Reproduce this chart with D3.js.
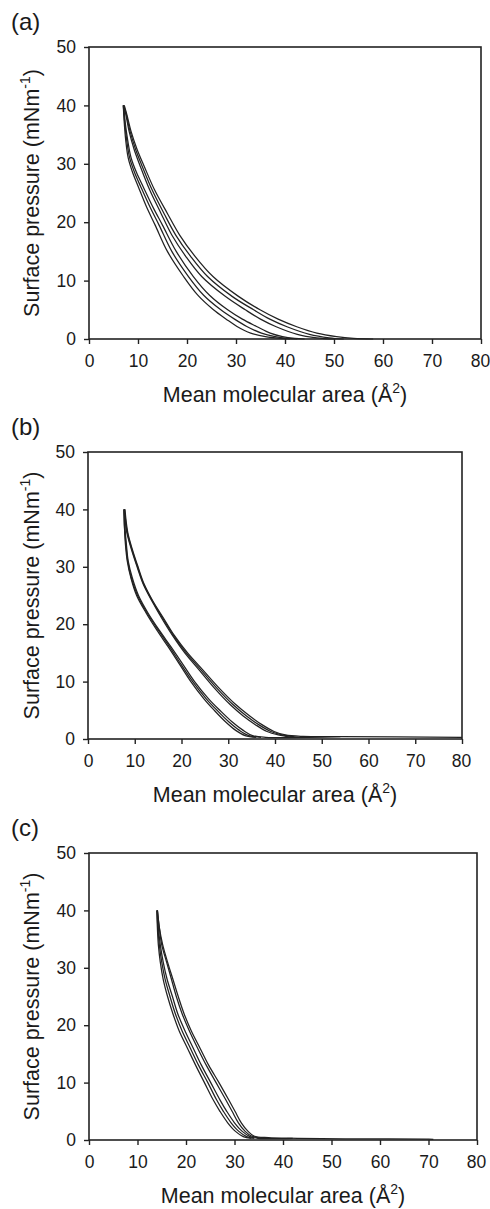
<!DOCTYPE html>
<html>
<head>
<meta charset="utf-8">
<script src="https://cdn.jsdelivr.net/npm/d3@7"></script>
<style>
  body { margin: 0; background: #fff; }
  text { font-family: "Liberation Sans", Arial, sans-serif; fill: #1a1a1a; }
</style>
</head>
<body>
<div id="chart"></div>
<script>
// tick values, same for all three panels
var areaTicks = [0, 10, 20, 30, 40, 50, 60, 70, 80]
var pressureTicks = [0, 10, 20, 30, 40, 50]

// isotherms as [mean molecular area, surface pressure]
// panel (a)
var a_comp1 = [[58,0],[54,0.1],[50.5,0.4],[46.5,1.0],[42.4,2.1],[38.6,3.4],[34.9,5.0],[30.5,7.3],[25.3,10.7],[21.6,14.2],[18.5,17.8],[16.0,21.5],[13.4,25.5],[11.3,29.5],[9.8,32.5],[8.6,35.5],[7.7,38.5],[7.2,40]]
var a_comp2 = [[52,0],[49,0.2],[45,0.8],[40.4,2.1],[36.9,3.4],[33.6,5.0],[29.2,7.3],[24.2,10.7],[20.7,14.2],[17.7,17.8],[15.3,21.5],[12.9,25.5],[10.9,29.5],[9.5,32.5],[8.4,35.5],[7.6,38.5],[7.1,40]]
var a_comp3 = [[50,0],[46.5,0.2],[42.5,0.8],[38.2,2.1],[35,3.4],[31.9,5.0],[27.8,7.3],[23.0,10.7],[19.7,14.2],[16.9,17.8],[14.7,21.5],[12.4,25.5],[10.5,29.5],[9.2,32.5],[8.2,35.5],[7.5,38.5],[7.0,40]]
var a_exp1 = [[7.0,40],[7.2,37],[7.5,34],[8.0,31],[8.9,28.5],[10.1,26],[11.8,22.5],[13.5,19.5],[16.0,15],[19.3,10.7],[22.2,7.5],[25.4,5.0],[28,3.4],[30.2,2.15],[33,1.0],[36,0.4],[39,0.1],[41,0]]
var a_exp2 = [[7.0,40],[7.3,37],[7.7,34],[8.3,31],[9.3,28.5],[10.6,26],[12.5,22.5],[14.3,19.5],[16.9,15],[20.3,10.7],[23.4,7.5],[26.9,5.0],[29.7,3.4],[32.2,2.15],[35.2,1.0],[38,0.4],[40.5,0.1],[42.5,0]]
var a_exp3 = [[7.1,40],[7.4,37],[7.9,34],[8.6,31],[9.7,28.5],[11.1,26],[13.1,22.5],[15.0,19.5],[17.8,15],[21.3,10.7],[24.6,7.5],[28.3,5.0],[31.3,3.4],[34.2,2.15],[37,1.0],[39.5,0.4],[42,0.1],[44,0]]

// panel (b)
var b_comp1 = [[80,0.3],[54,0.4],[46,0.45],[42.2,0.7],[39.8,1.3],[37.2,2.5],[34.6,4],[31.6,6],[27.9,9],[24.6,12],[21.3,15],[18.5,18],[16.2,21],[13.9,24],[12.0,27],[10.7,30],[9.5,33],[8.5,36],[7.9,40]]
var b_comp2 = [[45,0.3],[41.5,0.7],[39.1,1.3],[36.5,2.5],[33.9,4],[31.0,6],[27.4,9],[24.2,12],[21.0,15],[18.3,18],[16.0,21],[13.8,24],[11.9,27],[10.6,30],[9.4,33],[8.4,36],[7.8,40]]
var b_comp3 = [[43.5,0.3],[40.7,0.7],[38.3,1.3],[35.8,2.5],[33.2,4],[30.4,6],[26.9,9],[23.8,12],[20.7,15],[18.1,18],[15.8,21],[13.7,24],[11.8,27],[10.5,30],[9.3,33],[8.3,36],[7.7,40]]
var b_exp1 = [[7.7,40],[7.8,37],[8.0,34],[8.4,31],[9.2,28],[10.4,25],[12.4,22],[14.7,19],[17.2,16],[19.6,13],[22.0,10],[24.8,7],[27.0,5],[29.4,3],[31.6,1.5],[33.6,0.6],[36,0.3]]
var b_exp2 = [[7.7,40],[7.8,37],[8.1,34],[8.5,31],[9.3,28],[10.6,25],[12.6,22],[15.0,19],[17.5,16],[19.9,13],[22.4,10],[25.3,7],[27.6,5],[30.1,3],[32.4,1.5],[34.4,0.6],[37,0.3]]
var b_exp3 = [[7.8,40],[7.9,37],[8.2,34],[8.6,31],[9.5,28],[10.8,25],[12.8,22],[15.2,19],[17.8,16],[20.3,13],[22.8,10],[25.8,7],[28.2,5],[30.8,3],[33.2,1.5],[35.2,0.6],[38,0.3],[54,0.4]]

// panel (c)
var c_comp1 = [[71,0.1],[70,0.15],[55,0.2],[43,0.3],[37,0.4],[34,0.7],[32.8,1.5],[31.4,3],[30.1,5],[28.8,7],[26.8,10],[24.7,13],[22.9,16],[21.1,19],[19.6,22],[18.4,25],[17.3,28],[16.2,31],[15.2,34],[14.5,37],[14.1,40]]
var c_comp2 = [[36,0.3],[33.5,0.7],[32.2,1.5],[30.8,3],[29.5,5],[28.2,7],[26.2,10],[24.2,13],[22.4,16],[20.7,19],[19.2,22],[18.0,25],[17.0,28],[16.0,31],[15.0,34],[14.5,37],[14.1,40]]
var c_exp1 = [[14.0,40],[14.1,37],[14.3,34],[14.7,31],[15.3,28],[16.2,25],[17.3,22],[18.6,19],[20.3,16],[22.0,13],[23.8,10],[25.6,7],[27.0,5],[28.6,3],[30.2,1.5],[31.8,0.6],[33.5,0.3]]
var c_exp2 = [[14.0,40],[14.2,37],[14.5,34],[15.0,31],[15.7,28],[16.7,25],[17.8,22],[19.2,19],[20.9,16],[22.6,13],[24.5,10],[26.3,7],[27.7,5],[29.3,3],[30.9,1.5],[32.5,0.6],[34,0.3]]
var c_exp3 = [[14.1,40],[14.3,37],[14.7,34],[15.3,31],[16.1,28],[17.2,25],[18.3,22],[19.8,19],[21.5,16],[23.2,13],[25.1,10],[27.0,7],[28.4,5],[30.0,3],[31.6,1.5],[33.2,0.6],[34.8,0.3],[42,0.3]]

// layout of the three panels (pixel boxes of the plot area)
var panels = [
    {label: "(a)", curves: [a_comp1, a_comp2, a_comp3, a_exp1, a_exp2, a_exp3], left: 89, right: 481, top: 47, bottom: 339},
    {label: "(b)", curves: [b_comp1, b_comp2, b_comp3, b_exp1, b_exp2, b_exp3], left: 88, right: 462, top: 452, bottom: 739},
    {label: "(c)", curves: [c_comp1, c_comp2, c_exp1, c_exp2, c_exp3], left: 89, right: 477, top: 853, bottom: 1140}
]

var svg = d3.select("#chart")
    .append("svg")
    .attr("width", 490)
    .attr("height", 1209)

panels.forEach(function (p) {
    var x = d3.scaleLinear().domain([0, 80]).range([p.left, p.right])
    var y = d3.scaleLinear().domain([0, 50]).range([p.bottom, p.top])

    var g = svg.append("g")

    // panel letter
    g.append("text")
        .attr("x", 11)
        .attr("y", p.top - 17)
        .style("font-size", "24px")
        .text(p.label)

    // curves
    var line = d3.line()
        .x(function (d) { return x(d[0]) })
        .y(function (d) { return y(d[1]) })
        .curve(d3.curveCatmullRom.alpha(0.5))

    g.append("g")
        .selectAll("path")
        .data(p.curves)
        .enter()
        .append("path")
        .attr("d", line)
        .attr("fill", "none")
        .attr("stroke", "#222")
        .attr("stroke-width", 1.25)

    // frame
    g.append("rect")
        .attr("x", p.left)
        .attr("y", p.top)
        .attr("width", p.right - p.left)
        .attr("height", p.bottom - p.top)
        .attr("fill", "none")
        .attr("stroke", "#222")
        .attr("stroke-width", 1.6)

    // axes
    var xAxis = g.append("g")
        .attr("transform", "translate(0," + p.bottom + ")")
        .call(d3.axisBottom(x).tickValues(areaTicks).tickSize(5).tickPadding(11).tickSizeOuter(0))
    var yAxis = g.append("g")
        .attr("transform", "translate(" + p.left + ",0)")
        .call(d3.axisLeft(y).tickValues(pressureTicks).tickSize(5).tickPadding(8).tickSizeOuter(0))

    ;[xAxis, yAxis].forEach(function (ax) {
        ax.select(".domain").remove()
        ax.selectAll(".tick line").attr("stroke", "#222").attr("stroke-width", 1.4)
        ax.selectAll(".tick text")
            .style("font-size", "17.5px")
            .style("font-family", "'Liberation Sans', Arial, sans-serif")
            .attr("fill", "#1a1a1a")
    })
    // the last x label would run past the page edge
    xAxis.selectAll(".tick text").filter(function (d) { return d === 80 })
        .attr("text-anchor", "end")
        .attr("dx", "0.5em")

    // x title
    var xt = g.append("text")
        .attr("x", (p.left + p.right) / 2)
        .attr("y", p.bottom + 63)
        .attr("text-anchor", "middle")
        .style("font-size", "21.5px")
    xt.append("tspan").text("Mean molecular area (Å")
    xt.append("tspan").attr("dy", -9).style("font-size", "14px").text("2")
    xt.append("tspan").attr("dy", 9).text(")")

    // y title
    var yt = g.append("text")
        .attr("transform", "translate(39," + (p.top + p.bottom) / 2 + ") rotate(-90)")
        .attr("text-anchor", "middle")
        .style("font-size", "21.5px")
    yt.append("tspan").text("Surface pressure (mNm")
    yt.append("tspan").attr("dy", -9).style("font-size", "14px").text("-1")
    yt.append("tspan").attr("dy", 9).text(")")
})
</script>
</body>
</html>
